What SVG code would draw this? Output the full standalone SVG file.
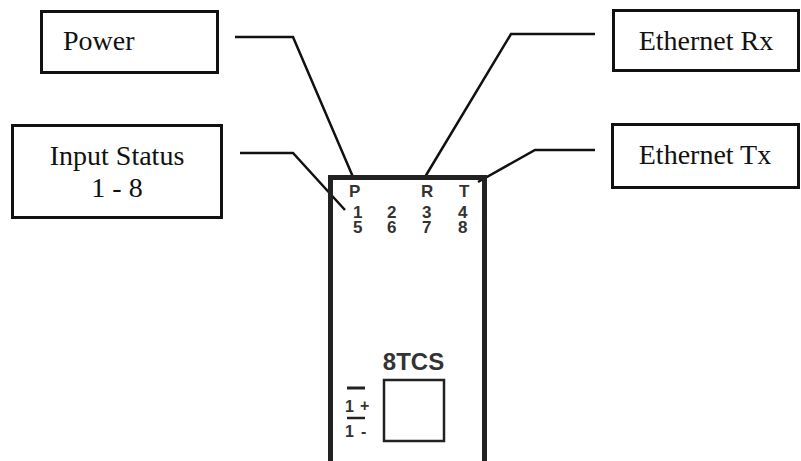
<svg xmlns="http://www.w3.org/2000/svg" width="801" height="461" viewBox="0 0 801 461">
<style>
.box{fill:#fff;stroke:#111;stroke-width:3}
.lbl{font-family:"Liberation Serif",serif;font-size:28px;fill:#111}
.wire{fill:none;stroke:#111;stroke-width:2.5}
.dev{font-family:"Liberation Sans",Arial,sans-serif;font-weight:bold;fill:#333}
</style>
<rect width="801" height="461" fill="#fff"/>
<g id="connectors">
<polyline class="wire" points="235,37 293,37 353,177"/>
<polyline class="wire" points="240,153 293,153 345,210"/>
<polyline class="wire" points="595,34 511,34 425,177"/>
<polyline class="wire" points="595,150 535,150 478,182"/>
</g>
<g id="power">
<rect class="box" x="41.5" y="11.5" width="176" height="61"/>
<text class="lbl" x="63" y="50">Power</text>
</g>
<g id="input-status">
<rect class="box" x="12.5" y="125.5" width="209" height="92"/>
<text class="lbl" x="117" y="165" text-anchor="middle">Input Status</text>
<text class="lbl" x="117" y="197" text-anchor="middle">1 - 8</text>
</g>
<g id="ethernet-rx">
<rect class="box" x="613.5" y="10.5" width="185" height="60"/>
<text class="lbl" x="706" y="50" text-anchor="middle">Ethernet Rx</text>
</g>
<g id="ethernet-tx">
<rect class="box" x="612.5" y="124.5" width="186" height="63"/>
<text class="lbl" x="705" y="164" text-anchor="middle">Ethernet Tx</text>
</g>
<g id="device">
<path d="M330.5,461 V177.5 H484.5 V461" fill="none" stroke="#222" stroke-width="5"/>
<g class="dev" font-size="17">
<text x="349" y="197">P</text>
<text x="421" y="197">R</text>
<text x="459" y="197">T</text>
<text x="353" y="218">1</text>
<text x="387" y="218">2</text>
<text x="422" y="218">3</text>
<text x="458" y="218">4</text>
<text x="353" y="233">5</text>
<text x="387" y="233">6</text>
<text x="422" y="233">7</text>
<text x="458" y="233">8</text>
</g>
<text class="dev" x="413.5" y="370" font-size="24" text-anchor="middle">8TCS</text>
<rect x="384" y="380" width="60" height="61" fill="#fff" stroke="#222" stroke-width="2.5"/>
<line x1="347" y1="388" x2="365" y2="388" stroke="#222" stroke-width="3"/>
<line x1="347" y1="418" x2="365" y2="418" stroke="#222" stroke-width="2.5"/>
<text class="dev" x="345" y="412" font-size="16">1</text>
<text class="dev" x="360" y="411" font-size="16">+</text>
<text class="dev" x="345" y="437" font-size="16">1</text>
<text class="dev" x="361" y="437" font-size="16">-</text>
</g>
</svg>
